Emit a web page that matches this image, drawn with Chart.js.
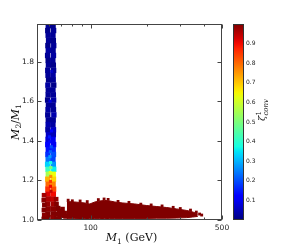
<!DOCTYPE html>
<html><head><meta charset="utf-8">
<script src="https://cdn.jsdelivr.net/npm/chart.js@4/dist/chart.umd.min.js"></script>
<style>html,body{margin:0;padding:0;background:#fff;overflow:hidden}</style>
</head><body><canvas id="c" width="298" height="245"></canvas>
<script>
// ---- axis ticks ----
const xTicks = [100, 500];
const xMinorTicks = [60, 70, 80, 90, 200, 300, 400];
const yTicks = [1.0, 1.2, 1.4, 1.6, 1.8];
const cbTicks = [0.1, 0.2, 0.3, 0.4, 0.5, 0.6, 0.7, 0.8, 0.9];

// ---- vertical band (Higgs funnel), two columns per row ----
const vRatio = [1.982,1.957,1.933,1.906,1.881,1.857,1.831,1.806,1.782,1.756,1.731,1.707,1.681,1.656,1.632,1.606,1.581,1.557,1.531,1.506,1.482,1.456,1.431,1.407,1.381,1.356,1.331,1.306,1.281,1.256,1.231,1.206,1.181,1.156,1.131,1.106,1.081,1.056,1.031,1.012];
const vLeftM1 = [59.6,59.2,59.5,59.8,59.3,59.6,59.1,59.5,59.7,59.2,59.4,59.8,59.3,59.6,59.5,59.1,59.7,59.4,59.2,59.6,59.5,59.3,59.7,59.4,59.2,59.6,59.3,59.5,59.1,59.4,59.6,59.2,59.5,59.3,59.4,59.6,59.2,59.5,59.3,59.4];
const vRightM1 = [63.2,63.6,63.1,63.4,63.7,63.2,63.5,63.0,63.4,63.6,63.2,63.3,63.7,63.1,63.4,63.6,63.2,63.5,63.8,63.3,63.1,63.5,63.4,63.2,63.6,63.3,63.5,63.1,63.4,63.7,63.3,63.5,63.2,63.6,63.4,63.3,63.5,63.2,63.4,63.3];
const vLeftZeta = [0.02,0.01,0.02,0.02,0.01,0.03,0.02,0.01,0.02,0.02,0.02,0.01,0.03,0.02,0.02,0.01,0.02,0.03,0.02,0.02,0.04,0.03,0.06,0.08,0.12,0.14,0.17,0.24,0.33,0.42,0.55,0.72,0.80,0.86,0.92,0.96,0.98,0.99,1.0,1.0];
const vRightZeta = [0.01,0.02,0.02,0.01,0.02,0.02,0.03,0.02,0.01,0.02,0.03,0.02,0.01,0.02,0.02,0.03,0.02,0.02,0.04,0.02,0.03,0.06,0.05,0.10,0.10,0.16,0.20,0.19,0.27,0.36,0.64,0.68,0.77,0.83,0.90,0.94,0.97,0.99,1.0,0.99];

// ---- extra mixed points in the band ----
const sM1 = [61.3,61.5,61.0,61.4,61.2,62.0,60.5,61.8,60.8,61.2,61.6,60.9,62.2,61.1,60.7];
const sRatio = [1.29,1.265,1.24,1.22,1.195,1.45,1.42,1.37,1.32,1.17,1.145,1.6,1.75,1.345,1.395];
const sZeta = [0.38,0.50,0.62,0.76,0.85,0.12,0.15,0.20,0.28,0.90,0.94,0.08,0.06,0.22,0.13];

// ---- lower-left clump and bridge ----
const cM1 = [56.6,56.4,56.8,56.5,56.7,56.4,65.6,65.9,65.7,66.0,65.8,68.0,69.2,70.4,71.6,72.8,68.6,70.9,73.6,67.2];
const cRatio = [1.125,1.10,1.075,1.05,1.025,1.005,1.105,1.08,1.055,1.03,1.008,1.045,1.028,1.04,1.022,1.035,1.012,1.055,1.018,1.06];
const cZeta = [0.97,0.99,1.0,1.0,0.99,1.0,0.98,1.0,0.99,1.0,1.0,1.0,1.0,1.0,1.0,1.0,1.0,1.0,1.0,1.0];

// ---- horizontal band (edges) ----
const hM1 = [74.8,82.5,93.3,99.1,105.4,112,119,126.6,134.6,148.4,171.9,199,225,254,287,325,349,371.5];
const hTop = [1.093,1.091,1.086,1.081,1.091,1.096,1.099,1.096,1.091,1.086,1.081,1.073,1.068,1.063,1.056,1.048,1.041,1.030];
const hBottom = [1.006,1.007,1.008,1.007,1.008,1.008,1.007,1.008,1.008,1.008,1.008,1.008,1.009,1.009,1.010,1.012,1.015,1.018];
const eM1 = [76,80,88,96,110,118,124,140,160,185,210,240,275,300,340,365,380,390];
const eRatio = [1.100,1.097,1.096,1.093,1.103,1.106,1.104,1.094,1.089,1.080,1.076,1.071,1.064,1.058,1.050,1.040,1.030,1.025];

// jet colormap
function interp(v, pts){
  for(let i=1;i<pts.length;i++){
    if(v<=pts[i][0]){const [x0,y0]=pts[i-1],[x1,y1]=pts[i];return y0+(y1-y0)*(v-x0)/(x1-x0);}
  }
  return pts[pts.length-1][1];
}
function jet(v){
  v=Math.max(0,Math.min(1,v));
  const r=interp(v,[[0,0],[0.35,0],[0.66,1],[0.89,1],[1,0.5]]);
  const g=interp(v,[[0,0],[0.125,0],[0.375,1],[0.64,1],[0.91,0],[1,0]]);
  const b=interp(v,[[0,0.5],[0.11,1],[0.34,1],[0.65,0],[1,0]]);
  return `rgb(${Math.round(r*255)},${Math.round(g*255)},${Math.round(b*255)})`;
}

const vData=[], vColors=[];
vRatio.forEach((r,i)=>{vData.push({x:vLeftM1[i],y:r});vColors.push(jet(vLeftZeta[i]));vData.push({x:vRightM1[i],y:r});vColors.push(jet(vRightZeta[i]));});
const sData=sM1.map((m,i)=>({x:m,y:sRatio[i]}));
const cData=cM1.map((m,i)=>({x:m,y:cRatio[i]}));
const RED=jet(1);

const TICKFONT='"DejaVu Sans"';
const SERIF='"DejaVu Serif"';

function drawRich(ctx, parts, x, y){
  let w=0;
  parts.forEach(p=>{ctx.font=p.f; w+=ctx.measureText(p.t).width;});
  let cx=x-w/2;
  ctx.textBaseline='alphabetic'; ctx.textAlign='left';
  parts.forEach(p=>{ctx.font=p.f; ctx.fillText(p.t,cx,y+(p.dy||0)); cx+=ctx.measureText(p.t).width;});
}

const decor={
  id:'decor',
  afterDraw(chart){
    const ctx=chart.ctx,a=chart.chartArea,xs=chart.scales.x,ys=chart.scales.y;
    ctx.save();
    ctx.strokeStyle='#444';ctx.lineWidth=1;
    const L=Math.round(a.left)+0.5,R=Math.round(a.right)-0.5,T=Math.round(a.top)+0.5,B=Math.round(a.bottom)-0.5;
    ctx.strokeRect(L,T,R-L,B-T);
    ctx.beginPath();
    yTicks.forEach(v=>{const p=Math.round(ys.getPixelForValue(v))+0.5;ctx.moveTo(L,p);ctx.lineTo(L+4,p);ctx.moveTo(R,p);ctx.lineTo(R-4,p);});
    xTicks.forEach(v=>{const p=Math.round(xs.getPixelForValue(v))+0.5;ctx.moveTo(p,B);ctx.lineTo(p,B-4);ctx.moveTo(p,T);ctx.lineTo(p,T+4);});
    xMinorTicks.forEach(v=>{const p=Math.round(xs.getPixelForValue(v))+0.5;ctx.moveTo(p,B);ctx.lineTo(p,B-2);ctx.moveTo(p,T);ctx.lineTo(p,T+2);});
    ctx.stroke();
    // colorbar
    const cl=233,cr=244,ct=a.top,cb=a.bottom;
    const grad=ctx.createLinearGradient(0,cb,0,ct);
    for(let i=0;i<=40;i++){grad.addColorStop(i/40,jet(i/40));}
    ctx.fillStyle=grad;ctx.fillRect(cl,ct,cr-cl,cb-ct);
    ctx.strokeStyle='#333';ctx.strokeRect(cl+0.5,ct+0.5,cr-cl-1,cb-ct-1);
    ctx.fillStyle='#222';ctx.font='6px '+TICKFONT;ctx.textAlign='left';ctx.textBaseline='middle';
    cbTicks.forEach(v=>{const p=cb-(cb-ct)*v;ctx.fillText(v.toFixed(1),cr+2,p);});
    // titles
    ctx.fillStyle='#111';
    drawRich(ctx,[{t:'M',f:'italic 11px '+SERIF},{t:'1',f:'7.5px '+SERIF,dy:2.5},{t:' (GeV)',f:'11px '+SERIF}],131.5,241);
    ctx.save();ctx.translate(18.5,122);ctx.rotate(-Math.PI/2);
    drawRich(ctx,[{t:'M',f:'italic 11px '+SERIF},{t:'2',f:'7.5px '+SERIF,dy:2.5},{t:'/',f:'11px '+SERIF},{t:'M',f:'italic 11px '+SERIF},{t:'1',f:'7.5px '+SERIF,dy:2.5}],0,0);
    ctx.restore();
    ctx.save();ctx.translate(265,110);ctx.rotate(-Math.PI/2);
    const zf='italic 10px '+SERIF;ctx.font=zf;const zw=ctx.measureText('ζ').width;
    ctx.font='7px '+SERIF;const ow=ctx.measureText('1').width;
    ctx.font='italic 7px '+SERIF;const cw=ctx.measureText('conv').width;
    const total=zw+Math.max(ow,cw);let sx=-total/2;
    ctx.textAlign='left';ctx.textBaseline='alphabetic';
    ctx.font=zf;ctx.fillText('ζ',sx,0);
    ctx.font='7px '+SERIF;ctx.fillText('1',sx+zw,-4);
    ctx.font='italic 7px '+SERIF;ctx.fillText('conv',sx+zw,3);
    ctx.restore();
    ctx.restore();
  }
};

new Chart(document.getElementById('c'),{
  type:'scatter',
  data:{datasets:[
    {type:'line',data:hM1.map((m,i)=>({x:m,y:hTop[i]})),borderColor:RED,borderWidth:1,pointRadius:0,fill:false,tension:0},
    {type:'line',data:hM1.map((m,i)=>({x:m,y:hBottom[i]})),borderColor:RED,borderWidth:1,pointRadius:0,fill:'-1',backgroundColor:RED,tension:0},
    {data:eM1.map((m,i)=>({x:m,y:eRatio[i]})),pointStyle:'rect',pointRadius:2,borderWidth:0,backgroundColor:RED},
    {data:cData,pointStyle:'rect',pointRadius:3.3,borderWidth:0,backgroundColor:cZeta.map(jet)},
    {data:sData,pointStyle:'rect',pointRadius:2.2,borderWidth:0,backgroundColor:sZeta.map(jet)},
    {data:vData,pointStyle:'rect',pointRadius:3.8,borderWidth:0,backgroundColor:vColors}
  ]},
  options:{
    responsive:false,animation:false,events:[],
    layout:{padding:{left:0,top:24,right:76,bottom:0}},
    plugins:{legend:{display:false},tooltip:{enabled:false}},
    scales:{
      x:{type:'logarithmic',min:51.9,max:500,grid:{display:false,drawTicks:false},border:{display:false},
         ticks:{font:{family:'DejaVu Sans',size:7.5},color:'#222',padding:4,maxRotation:0,autoSkip:false,callback:v=>String(v)},
         afterBuildTicks:s=>{s.ticks=xTicks.map(v=>({value:v}));},
         afterFit:s=>{s.height=25;s.paddingLeft=0;s.paddingRight=0;}},
      y:{type:'linear',min:1.0,max:1.99,grid:{display:false,drawTicks:false},border:{display:false},
         ticks:{font:{family:'DejaVu Sans',size:7.5},color:'#222',padding:3,callback:v=>Number(v).toFixed(1)},
         afterBuildTicks:s=>{s.ticks=yTicks.map(v=>({value:v}));},
         afterFit:s=>{s.width=37;s.paddingTop=0;s.paddingBottom=0;}}
    }
  },
  plugins:[decor]
});
</script></body></html>
